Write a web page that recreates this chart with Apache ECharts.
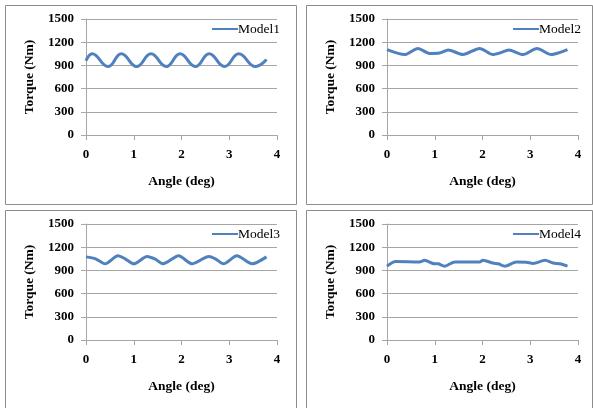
<!DOCTYPE html>
<html>
<head>
<meta charset="utf-8">
<script src="https://cdn.jsdelivr.net/npm/echarts@6/dist/echarts.min.js"></script>
<style>
html, body { margin: 0; padding: 0; background: #fff; }
#chart { width: 593px; height: 408px; }
</style>
</head>
<body>
<div id="chart"></div>
<script>
// torque ripple per model
var model1Angle = [0, 0.13, 0.46, 0.74, 1.06, 1.36, 1.68, 1.97, 2.29, 2.58, 2.90, 3.20, 3.55, 3.78];
var model1Torque = [960, 1050, 885, 1050, 885, 1050, 885, 1050, 885, 1050, 885, 1050, 885, 975];

var model2Angle = [0, 0.37, 0.65, 0.89, 1.10, 1.28, 1.59, 1.94, 2.22, 2.36, 2.55, 2.85, 3.14, 3.44, 3.58, 3.78];
var model2Torque = [1105, 1040, 1120, 1055, 1060, 1100, 1040, 1120, 1040, 1060, 1100, 1040, 1120, 1040, 1060, 1105];

var model3Angle = [0, 0.20, 0.40, 0.67, 0.82, 1.00, 1.28, 1.45, 1.61, 1.94, 2.22, 2.57, 2.71, 2.88, 3.16, 3.48, 3.78];
var model3Torque = [1075, 1050, 985, 1090, 1050, 985, 1080, 1045, 985, 1090, 985, 1080, 1050, 985, 1090, 985, 1075];

var model4Angle = [0, 0.18, 0.68, 0.79, 0.96, 1.07, 1.21, 1.42, 1.94, 2.01, 2.22, 2.33, 2.47, 2.71, 2.92, 3.06, 3.31, 3.48, 3.62, 3.78];
var model4Torque = [955, 1015, 1010, 1030, 990, 985, 955, 1010, 1010, 1030, 995, 985, 955, 1010, 1005, 990, 1030, 995, 985, 955];

var modelNames = ['Model1', 'Model2', 'Model3', 'Model4'];
var yTicks = [0, 300, 600, 900, 1200, 1500];
var xTicks = [0, 1, 2, 3, 4];

var angles = [model1Angle, model2Angle, model3Angle, model4Angle];
var torques = [model1Torque, model2Torque, model3Torque, model4Torque];

var panels = [
	{ left: 86, top: 19, box: [5.5, 5.5, 291, 199] },
	{ left: 387, top: 19, box: [306.5, 5.5, 286, 199] },
	{ left: 86, top: 224, box: [5.5, 210.5, 291, 210] },
	{ left: 387, top: 224, box: [306.5, 210.5, 286, 210] }
];

var lineColor = '#4F81BD';
var gridColor = '#a6a6a6';
var font = '"Liberation Serif", "Times New Roman", serif';

var grid = [], xAxis = [], yAxis = [], series = [], legend = [], graphic = [];

panels.forEach(function (p, i) {
	grid.push({ left: p.left, top: p.top, width: 191, height: 116 });
	xAxis.push({
		type: 'value', gridIndex: i,
		min: xTicks[0], max: xTicks[xTicks.length - 1], interval: 1,
		name: 'Angle (deg)', nameLocation: 'middle', nameGap: 40,
		nameTextStyle: { fontFamily: font, fontWeight: 'bold', fontSize: 13.5, color: '#000' },
		axisLine: { show: true, lineStyle: { color: gridColor } },
		axisTick: { show: true, length: 5, inside: false, lineStyle: { color: gridColor } },
		axisLabel: { fontFamily: font, fontWeight: 'bold', fontSize: 13, color: '#000', margin: 13 },
		splitLine: { show: false }
	});
	yAxis.push({
		type: 'value', gridIndex: i,
		min: yTicks[0], max: yTicks[yTicks.length - 1], interval: 300,
		name: 'Torque (Nm)', nameLocation: 'middle', nameGap: 49, nameRotate: 90,
		nameTextStyle: { fontFamily: font, fontWeight: 'bold', fontSize: 13.5, color: '#000' },
		axisLine: { show: true, lineStyle: { color: gridColor } },
		axisTick: { show: true, length: 5, lineStyle: { color: gridColor } },
		axisLabel: {
			fontFamily: font, fontWeight: 'bold', fontSize: 13, color: '#000', margin: 12,
			formatter: function (v) { return String(v); }
		},
		splitLine: { show: true, lineStyle: { color: gridColor, width: 1 } }
	});
	series.push({
		name: modelNames[i], type: 'line', xAxisIndex: i, yAxisIndex: i,
		data: angles[i].map(function (a, k) { return [a, torques[i][k]]; }),
		smooth: i === 0 ? 0.45 : 0.25,
		showSymbol: false,
		lineStyle: { color: lineColor, width: 3 },
		itemStyle: { color: lineColor },
		animation: false
	});
	legend.push({
		data: [modelNames[i]],
		left: p.left + 121, top: p.top - 2,
		icon: 'rect', itemWidth: 26, itemHeight: 2,
		itemGap: 0,
		textStyle: { fontFamily: font, fontSize: 13.5, color: '#000', padding: [0, 0, 0, -5] }
	});
	graphic.push({
		type: 'rect',
		shape: { x: p.box[0], y: p.box[1], width: p.box[2], height: p.box[3] },
		style: { fill: null, stroke: '#8c8c8c', lineWidth: 1 },
		silent: true
	});
});

var option = {
	backgroundColor: '#fff',
	animation: false,
	grid: grid,
	xAxis: xAxis,
	yAxis: yAxis,
	legend: legend,
	series: series,
	graphic: graphic
};

var chart = echarts.init(document.getElementById('chart'));
chart.setOption(option);
</script>
</body>
</html>
